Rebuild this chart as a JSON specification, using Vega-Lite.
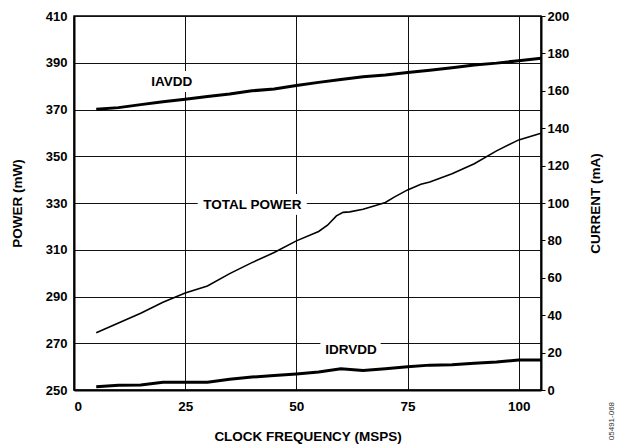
{
  "$schema": "https://vega.github.io/schema/vega-lite/v6.json",
  "width": 467,
  "height": 374,
  "autosize": "none",
  "padding": {"left": 74, "top": 16, "right": 78, "bottom": 54},
  "config": {
    "font": "Liberation Sans",
    "view": {"stroke": "black", "strokeWidth": 1.5},
    "axis": {
      "labelFont": "Liberation Sans", "labelFontWeight": "bold", "labelFontSize": 13, "labelColor": "black",
      "titleFont": "Liberation Sans", "titleFontWeight": "bold", "titleFontSize": 13.5, "titleColor": "black",
      "domainColor": "black", "gridColor": "#111", "gridOpacity": 1, "gridWidth": 1, "tickColor": "black"
    }
  },
  "datasets": {
    "power": [
      {"freq": 5, "power": 274.5}, {"freq": 10, "power": 278.7}, {"freq": 15, "power": 282.8},
      {"freq": 20, "power": 287.5}, {"freq": 25, "power": 291.5}, {"freq": 30, "power": 294.5},
      {"freq": 35, "power": 299.8}, {"freq": 40, "power": 304.5}, {"freq": 45, "power": 308.8},
      {"freq": 50, "power": 313.8}, {"freq": 55, "power": 317.8}, {"freq": 57, "power": 320.5},
      {"freq": 59, "power": 324.5}, {"freq": 60.5, "power": 326}, {"freq": 62, "power": 326.2},
      {"freq": 65, "power": 327.3}, {"freq": 68, "power": 329}, {"freq": 70, "power": 330.2},
      {"freq": 72, "power": 332.5}, {"freq": 75, "power": 335.6}, {"freq": 78, "power": 338},
      {"freq": 80, "power": 339}, {"freq": 85, "power": 342.5}, {"freq": 90, "power": 346.8},
      {"freq": 95, "power": 352.3}, {"freq": 100, "power": 357}, {"freq": 105, "power": 359.8}
    ],
    "current": [
      {"freq": 5, "series": "IAVDD", "current": 150.1}, {"freq": 10, "series": "IAVDD", "current": 151},
      {"freq": 15, "series": "IAVDD", "current": 152.6}, {"freq": 20, "series": "IAVDD", "current": 154.2},
      {"freq": 25, "series": "IAVDD", "current": 155.5}, {"freq": 30, "series": "IAVDD", "current": 157},
      {"freq": 35, "series": "IAVDD", "current": 158.3}, {"freq": 40, "series": "IAVDD", "current": 160},
      {"freq": 45, "series": "IAVDD", "current": 161}, {"freq": 50, "series": "IAVDD", "current": 162.8},
      {"freq": 55, "series": "IAVDD", "current": 164.5}, {"freq": 60, "series": "IAVDD", "current": 166},
      {"freq": 65, "series": "IAVDD", "current": 167.5}, {"freq": 70, "series": "IAVDD", "current": 168.5},
      {"freq": 75, "series": "IAVDD", "current": 169.8}, {"freq": 80, "series": "IAVDD", "current": 171},
      {"freq": 85, "series": "IAVDD", "current": 172.3}, {"freq": 90, "series": "IAVDD", "current": 173.8},
      {"freq": 95, "series": "IAVDD", "current": 174.8}, {"freq": 100, "series": "IAVDD", "current": 176.1},
      {"freq": 105, "series": "IAVDD", "current": 177.4},
      {"freq": 5, "series": "IDRVDD", "current": 1.8}, {"freq": 10, "series": "IDRVDD", "current": 2.5},
      {"freq": 15, "series": "IDRVDD", "current": 2.7}, {"freq": 20, "series": "IDRVDD", "current": 4.1},
      {"freq": 25, "series": "IDRVDD", "current": 4.1}, {"freq": 30, "series": "IDRVDD", "current": 4.1},
      {"freq": 35, "series": "IDRVDD", "current": 5.7}, {"freq": 40, "series": "IDRVDD", "current": 6.9},
      {"freq": 45, "series": "IDRVDD", "current": 7.7}, {"freq": 50, "series": "IDRVDD", "current": 8.6},
      {"freq": 55, "series": "IDRVDD", "current": 9.6}, {"freq": 60, "series": "IDRVDD", "current": 11.4},
      {"freq": 65, "series": "IDRVDD", "current": 10.4}, {"freq": 70, "series": "IDRVDD", "current": 11.3},
      {"freq": 75, "series": "IDRVDD", "current": 12.4}, {"freq": 80, "series": "IDRVDD", "current": 13.3},
      {"freq": 85, "series": "IDRVDD", "current": 13.5}, {"freq": 90, "series": "IDRVDD", "current": 14.3},
      {"freq": 95, "series": "IDRVDD", "current": 15}, {"freq": 100, "series": "IDRVDD", "current": 16},
      {"freq": 105, "series": "IDRVDD", "current": 16}
    ],
    "labels": [
      {"freq": 22, "power": 381.8, "label": "IAVDD"},
      {"freq": 40.1, "power": 329.1, "label": "TOTAL POWER"},
      {"freq": 62.3, "power": 267.1, "label": "IDRVDD"}
    ],
    "code": [
      {"freq": 120.9, "power": 244.9, "label": "05491-068"}
    ]
  },
  "layer": [
    {
      "data": {"name": "power"},
      "mark": {"type": "line", "color": "black", "strokeWidth": 1.6},
      "encoding": {
        "x": {
          "field": "freq", "type": "quantitative",
          "scale": {"domain": [0, 105], "nice": false, "zero": false},
          "axis": {"values": [0, 25, 50, 75, 100], "title": "CLOCK FREQUENCY (MSPS)", "grid": true, "ticks": false,
                   "domainWidth": 2, "labelPadding": 9, "labelFontSize": 13.5, "titlePadding": 17}
        },
        "y": {
          "field": "power", "type": "quantitative",
          "scale": {"domain": [250, 410], "nice": false, "zero": false},
          "axis": {"values": [250, 270, 290, 310, 330, 350, 370, 390, 410], "title": "POWER (mW)", "grid": true,
                   "ticks": false, "domainWidth": 2, "labelPadding": 7, "titlePadding": 21}
        }
      }
    },
    {
      "data": {"name": "labels"},
      "mark": {"type": "text", "stroke": "white", "strokeWidth": 12, "strokeJoin": "round", "fill": "white", "fontSize": 13.5, "fontWeight": "bold", "align": "center", "baseline": "middle"},
      "encoding": {
        "x": {"field": "freq", "type": "quantitative"},
        "y": {"field": "power", "type": "quantitative", "scale": {"domain": [250, 410], "nice": false, "zero": false}, "axis": null},
        "text": {"field": "label"}
      }
    },
    {
      "data": {"name": "labels"},
      "mark": {"type": "text", "color": "black", "fontSize": 13.5, "fontWeight": "bold", "align": "center", "baseline": "middle"},
      "encoding": {
        "x": {"field": "freq", "type": "quantitative"},
        "y": {"field": "power", "type": "quantitative", "scale": {"domain": [250, 410], "nice": false, "zero": false}, "axis": null},
        "text": {"field": "label"}
      }
    },
    {
      "data": {"name": "code"},
      "mark": {"type": "text", "color": "#333", "fontSize": 8, "angle": 270, "align": "right", "baseline": "middle"},
      "encoding": {
        "x": {"field": "freq", "type": "quantitative"},
        "y": {"field": "power", "type": "quantitative", "scale": {"domain": [250, 410], "nice": false, "zero": false}, "axis": null},
        "text": {"field": "label"}
      }
    },
    {
      "data": {"name": "current"},
      "mark": {"type": "line", "color": "black", "strokeWidth": 3},
      "encoding": {
        "x": {"field": "freq", "type": "quantitative"},
        "y": {
          "field": "current", "type": "quantitative",
          "scale": {"domain": [0, 200], "nice": false},
          "axis": {"orient": "right", "values": [0, 20, 40, 60, 80, 100, 120, 140, 160, 180, 200], "title": "CURRENT (mA)",
                   "titleAngle": 270, "grid": false, "tickSize": 4, "domainWidth": 2, "labelPadding": 2, "titlePadding": 34}
        },
        "detail": {"field": "series"}
      }
    }
  ],
  "resolve": {"scale": {"y": "independent"}}
}
